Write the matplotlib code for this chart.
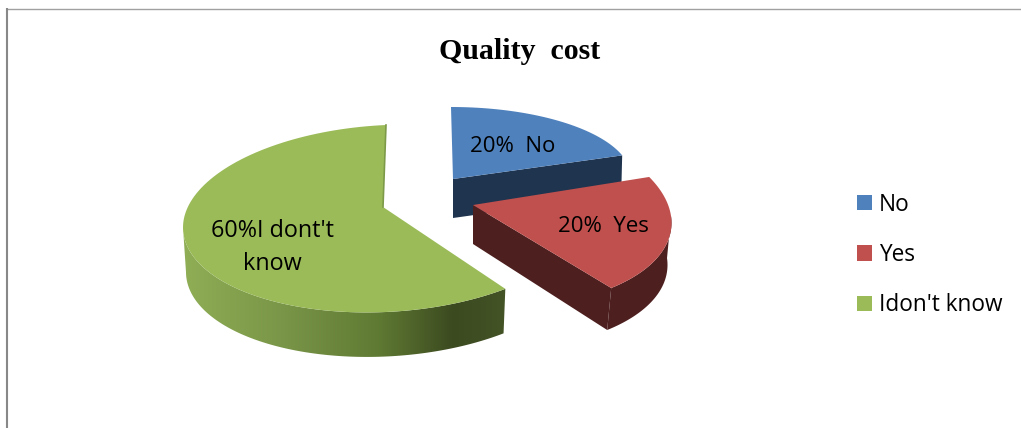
import numpy as np
import matplotlib
matplotlib.use("Agg")
import matplotlib.pyplot as plt
from matplotlib.patches import Polygon, Patch
from matplotlib.colors import LinearSegmentedColormap

# ---- data ----
categories = ["No", "Yes", "Idon't know"]
values = [20, 20, 60]
slice_labels = ["20%  No", "20%  Yes", "60%I dont't\nknow"]
title = "Quality  cost"

top_colors = ["#4f81bd", "#c0504d", "#9bbb59"]
side_colors = ["#1f344f", "#4e1f1f", None]
green_side_stops = [(0.0, "#8fae55"), (0.3, "#7a9648"), (0.6, "#5f7a33"), (0.83, "#3c4a20"), (1.0, "#445426")]

# ---- slice geometry (pixel frame): centre, two axis vectors, apex, depth shift ----
geom = [
    dict(c=(451, 177), u=(180, 0), v=(0, -70), apex=(453, 179), shift=(-1, 39)),
    dict(c=(466, 208.5), u=(203, -1), v=(-32, -99), apex=(473, 205), shift=(-4, 42)),
    dict(c=(386, 218.5), u=(203, -9), v=(0, -93.5), apex=(383, 207), shift=(0, 44.5)),
]
label_xy = [(513, 147), (603, 226), (272, 247)]
label_sizes = [16, 16, 16.8]

fracs = np.array(values) / np.sum(values)
edges = 90 - 360 * np.concatenate([[0], np.cumsum(fracs)])


def arc(g, t0, t1, n=120, shift=(0, 0), shrink=0.0):
    t = np.radians(np.linspace(t0, t1, n))
    ux, uy = g["u"]
    vx, vy = g["v"]
    x = g["c"][0] + shift[0] + (ux - shrink) * np.cos(t) + vx * np.sin(t)
    y = g["c"][1] + shift[1] + uy * np.cos(t) + vy * np.sin(t)
    return np.column_stack([x, y])


W, H = 1021, 428
fig = plt.figure(figsize=(W / 100, H / 100), dpi=100)
ax = fig.add_axes([0, 0, 1, 1])
ax.set_xlim(0, W)
ax.set_ylim(H, 0)
ax.axis("off")

# chart frame
ax.plot([6.5, W], [8.5, 8.5], color="#a0a0a0", lw=1.0, solid_capstyle="butt")
ax.plot([7, 7], [8, H], color="#888888", lw=1.5, solid_capstyle="butt")

# No slice
g = geom[0]
s, e = edges[0], edges[1]
top = arc(g, s, e)
end = top[-1]
apex = np.array(g["apex"], float)
sh = np.array(g["shift"], float)
ax.add_patch(Polygon([apex, end, end + sh, apex + (0, sh[1])], closed=True, fc=side_colors[0], ec="none", zorder=2))
ax.add_patch(Polygon(np.vstack([[apex], top]), closed=True, fc=top_colors[0], ec="none", zorder=3))

# Idon't know slice: the slice runs down the left side and ends at the lower right
g = geom[2]
s, e = edges[2], edges[3]
top = arc(g, s, e)
apex = np.array(g["apex"], float)
rim_top = arc(g, -180, s)
rim_bot = arc(g, s, -180, shift=g["shift"], shrink=3)
band = Polygon(np.vstack([rim_top, rim_bot]), closed=True, fc="none", ec="none", zorder=3)
ax.add_patch(band)
cmap = LinearSegmentedColormap.from_list("greenrim", green_side_stops)
grad = np.linspace(0, 1, 256).reshape(1, -1)
img = ax.imshow(grad, extent=(183, 508, 360, 200), cmap=cmap, aspect="auto", zorder=3, interpolation="bilinear")
img.set_clip_path(band)
ax.set_xlim(0, W)
ax.set_ylim(H, 0)
ax.add_patch(Polygon(np.vstack([[apex], top]), closed=True, fc=top_colors[2], ec="none", zorder=4))
ax.plot([apex[0], top[-1][0]], [apex[1], top[-1][1]], color="#7d9a49", lw=1.2, zorder=4)

# Yes slice
g = geom[1]
s, e = edges[1], edges[2]
top = arc(g, s, e)
apex = np.array(g["apex"], float)
sh = np.array(g["shift"], float)
rim_a = arc(g, -5, e)
rim_b = arc(g, e, -5, shift=g["shift"])
ax.add_patch(Polygon(np.vstack([rim_a, rim_b]), closed=True, fc=side_colors[1], ec="none", zorder=5))
ax.add_patch(Polygon([apex, top[-1], top[-1] + sh, apex + (0, 39)], closed=True, fc=side_colors[1], ec="none", zorder=5))
ax.add_patch(Polygon(np.vstack([[apex], top]), closed=True, fc=top_colors[1], ec="none", zorder=6))

# labels on slices
for (x, y), lab, fs in zip(label_xy, slice_labels, label_sizes):
    ax.text(x, y, lab, ha="center", va="center", fontsize=fs, family="Open Sans",
            color="black", linespacing=1.5, zorder=8)

# title
ax.text(520, 51, title, ha="center", va="center", fontsize=21.5, family="Liberation Serif",
        fontweight="bold", color="black", zorder=8)

# legend
handles = [Patch(fc=c, ec="none", label=n) for c, n in zip(top_colors, categories)]
ax.legend(handles=handles, loc="center left", bbox_to_anchor=(857 / W, 1 - 255 / H),
          bbox_transform=fig.transFigure, frameon=False, borderpad=0, borderaxespad=0,
          prop={"family": "Open Sans", "size": 16.3}, handlelength=0.66, handleheight=0.66,
          handletextpad=0.3, labelspacing=1.17)

fig.savefig("out.png", dpi=100, facecolor="white")
